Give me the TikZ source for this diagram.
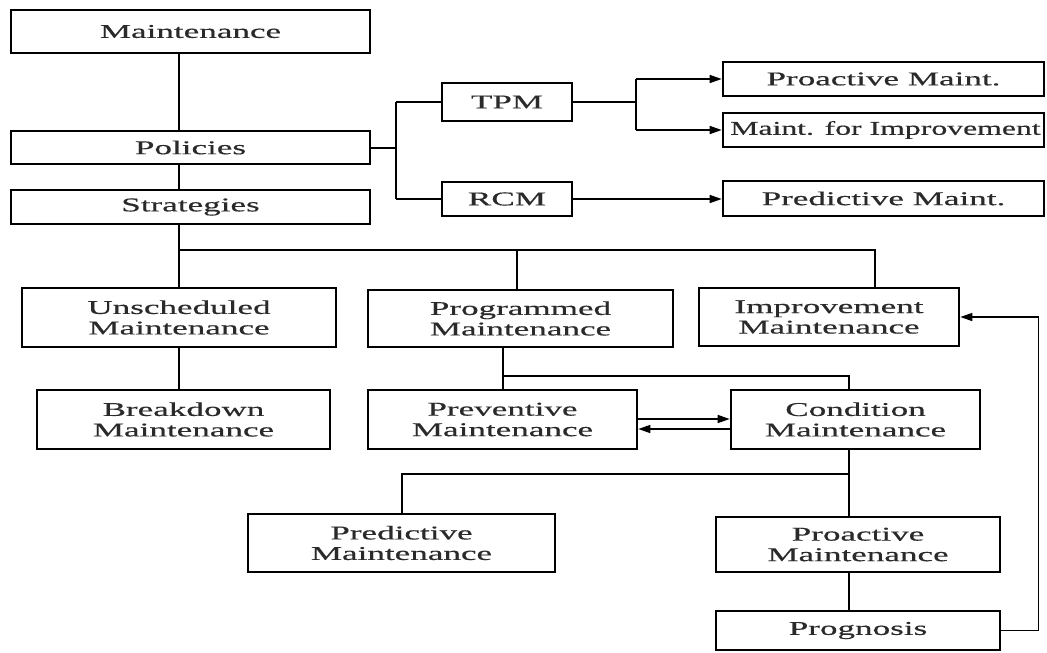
\documentclass[tikz,border=0pt]{standalone}
\usepackage{fontspec}
\setmainfont[FakeStretch=1.8,FakeBold=0.4]{Liberation Serif}
\usetikzlibrary{arrows.meta}
\definecolor{txt}{HTML}{2A2A2A}
\tikzset{
  box/.style={draw=black, line width=2.6pt, fill=white, inner sep=0pt, align=center,
    text=txt, font=\fontsize{19.5}{20.5}\selectfont},
  conn/.style={draw=black, line width=2pt},
  arr/.style={draw=black, line width=1.5pt, -{Triangle[length=12pt,width=8pt]}},
}
\begin{document}
\begin{tikzpicture}[x=1pt,y=-1pt]
\useasboundingbox (0,0) rectangle (1047,653);
% helper coordinates
\coordinate (spine) at (179.3,0);
\coordinate (bus) at (0,250);
\coordinate (xprog) at (517.3,0);
\coordinate (ximpr) at (875,0);
\coordinate (ybr) at (0,375.7);
\coordinate (xc) at (849,0);
\coordinate (ypr) at (0,473.7);
\coordinate (yup) at (0,419);
\coordinate (ydn) at (0,429);
\coordinate (fb) at (1038.7,0);
\coordinate (tj) at (396,0);
\coordinate (tj2) at (636,0);
% boxes
\node[box, minimum width=359pt, minimum height=43pt] (maint) at (190.5,31.5) {Maintenance};
\node[box, minimum width=359pt, minimum height=33pt] (pol) at (190.5,147.5) {Policies};
\node[box, minimum width=359pt, minimum height=34pt] (strat) at (190.5,207) {Strategies};
\node[box, minimum width=130pt, minimum height=38pt] (tpm) at (507,102) {TPM};
\node[box, minimum width=130pt, minimum height=34pt] (rcm) at (507,199) {RCM};
\node[box, minimum width=321pt, minimum height=34pt] (proM) at (883.5,79) {Proactive Maint.};
\node[box, minimum width=321pt, minimum height=34pt] (mimp) at (883.5,130) {};
\node[anchor=west, inner sep=0pt, text=txt, font=\fontsize{19.5}{20.5}\selectfont]
  (mimpt) at (730,130) {\scalebox{0.905}[1]{Maint. for Improvement}};
\node[box, minimum width=321pt, minimum height=35pt] (predM) at (883.5,198.5) {Predictive Maint.};
\node[box, minimum width=314pt, minimum height=59pt] (unsch) at (179,317.5) {Unscheduled\\Maintenance};
\node[box, minimum width=305pt, minimum height=57pt] (prog) at (520.5,318.5) {Programmed\\Maintenance};
\node[box, minimum width=260pt, minimum height=58pt] (impr) at (829,317) {Improvement\\Maintenance};
\node[box, minimum width=293pt, minimum height=59pt] (brk) at (183.5,419.5) {Breakdown\\Maintenance};
\node[box, minimum width=269pt, minimum height=59pt] (prev) at (502.5,419.5) {Preventive\\Maintenance};
\node[box, minimum width=249pt, minimum height=59pt] (cond) at (855.5,419.5) {Condition\\Maintenance};
\node[box, minimum width=307pt, minimum height=58pt] (pred) at (401.5,543) {Predictive\\Maintenance};
\node[box, minimum width=284pt, minimum height=55pt] (proa) at (858,544.5) {Proactive\\Maintenance};
\node[box, minimum width=284pt, minimum height=39pt] (progn) at (858,630.5) {Prognosis};
% spine
\draw[conn] (maint.south -| spine) -- (pol.north -| spine);
\draw[conn] (pol.south -| spine) -- (strat.north -| spine);
\draw[conn] (strat.south -| spine) -- (spine |- bus) -- (ximpr |- bus) -- (impr.north -| ximpr);
\draw[conn] (spine |- bus) -- (unsch.north -| spine);
\draw[conn] (xprog |- bus) -- (prog.north -| xprog);
\draw[conn] (unsch.south) -- (unsch.south |- brk.north);
% programmed branch
\draw[conn] (prev.north |- prog.south) -- (prev.north);
\draw[conn] (prev.north |- ybr) -- (xc |- ybr) -- (cond.north -| xc);
\draw[arr] (prev.east |- yup) -- (cond.west |- yup);
\draw[arr] (cond.west |- ydn) -- (prev.east |- ydn);
% condition branch
\draw[conn] (cond.south -| xc) -- (proa.north -| xc);
\draw[conn] (xc |- ypr) -- (pred.north |- ypr) -- (pred.north);
\draw[conn] (proa.south -| xc) -- (progn.north -| xc);
\draw[arr] (progn.east) -- (progn.east -| fb) -- (fb |- impr.east) -- (impr.east);
% policies branch
\draw[conn] (pol.east) -- (tj |- pol.east);
\draw[conn] (tj |- tpm.west) -- (tj |- rcm.west);
\draw[conn] (tj |- tpm.west) -- (tpm.west);
\draw[conn] (tj |- rcm.west) -- (rcm.west);
\draw[conn] (tpm.east) -- (tj2 |- tpm.east);
\draw[conn] (tj2 |- proM.west) -- (tj2 |- mimp.west);
\draw[arr] (tj2 |- proM.west) -- (proM.west);
\draw[arr] (tj2 |- mimp.west) -- (mimp.west);
\draw[arr] (rcm.east) -- (rcm.east -| predM.west);
\end{tikzpicture}
\end{document}
